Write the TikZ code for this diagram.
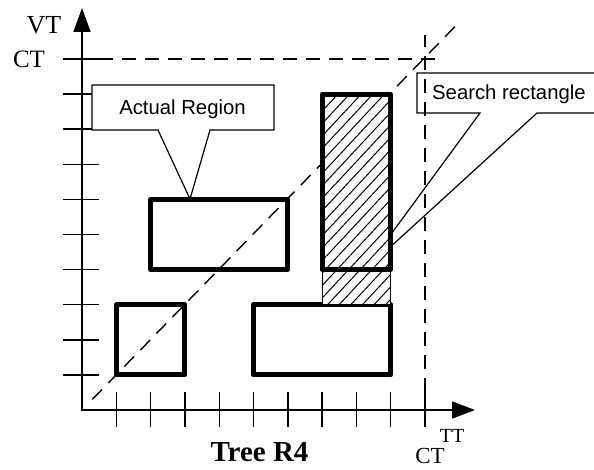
\documentclass[tikz,border=0pt]{standalone}
\usepackage{fontspec}
\setmainfont{Liberation Serif}
\newfontfamily\calloutfont{Liberation Sans}
\usetikzlibrary{arrows.meta,patterns.meta}
\tikzset{
  thinline/.style={line width=1.2pt},
  axisline/.style={line width=1.5pt},
  tickline/.style={line width=1.4pt},
  dashline/.style={line width=1.4pt,dash pattern=on 14pt off 9pt},
  region/.style={line width=5pt,line join=round},
  hatch/.style={pattern={Lines[angle=47,distance=8.5pt,line width=1pt]}},
  callout/.style={thinline,line join=miter},
  callouttext/.style={font=\calloutfont\fontsize{20.3pt}{22pt}\selectfont,inner sep=0pt,anchor=base},
  axislabel/.style={font=\fontsize{25pt}{27pt}\selectfont,inner sep=0pt,anchor=base},
}
\begin{document}
\begin{tikzpicture}[x=34.3pt,y=35.1pt]
\useasboundingbox (-2.3907,-1.6809) rectangle (14.9271,11.6809);
% axes
\coordinate (O) at (0,0);
\coordinate (ytop) at (0,11.453);
\coordinate (xend) at (11.458,0);
\draw[axisline,-{Triangle[length=24pt,width=17pt]}] (O) -- (ytop);
\draw[axisline,-{Triangle[length=23pt,width=17pt]}] (-0.03,0) -- (xend);
% ticks
\foreach \k in {1,...,10}{
  \draw[tickline] (-0.554,\k) -- (0.496,\k);
  \draw[tickline] (\k,-0.48) -- (\k,0.51);
}
% search rectangle callout (outline only)
\coordinate (sTL) at (9.767,9.601);
\coordinate (sTR) at (15.3,9.601);
\coordinate (sBL) at (9.767,8.462);
\coordinate (sBR) at (15.3,8.462);
\coordinate (sB1) at (11.603,8.462);
\coordinate (sB2) at (13.265,8.462);
\coordinate (sTip) at (8.222,3.96);
\draw[callout] (sTR) -- (sTL) -- (sBL) -- (sB1) -- (sTip) -- (sB2) -- (sBR);
% dashed lines
\draw[dashline] (0.5,10) -- (10.45,10);
\draw[dashline] (10,0.5) -- (10,10.68);
\draw[dashline] (0.3,0.3) -- (10.95,11.0);
% actual region callout
\coordinate (aTL) at (0.2915,9.259);
\coordinate (aTR) at (5.598,9.259);
\coordinate (aBR) at (5.598,7.977);
\coordinate (aB2) at (3.732,7.977);
\coordinate (aTip) at (3.149,6.011);
\coordinate (aB1) at (2.216,7.977);
\coordinate (aBL) at (0.2915,7.977);
\draw[callout,fill=white] (aTL) -- (aTR) -- (aBR) -- (aB2) -- (aTip) -- (aB1) -- (aBL) -- cycle;
% regions
\draw[region] (1,1) rectangle (3,3);
\draw[region] (2,4) rectangle (6,6);
\draw[region] (5,1) rectangle (9,3);
\fill[white] (7,3) rectangle (9,9);
\path[hatch] (7,3) rectangle (9,9);
\draw[thinline] (7,3) rectangle (9,4);
\draw[region] (7,4) rectangle (9,9);
% texts
\node[callouttext] (atext) at (2.93,8.433) {Actual Region};
\node[callouttext,anchor=base west] (stext) at (10.204,8.832) {Search rectangle};
\node[axislabel,font=\fontsize{26pt}{28pt}\selectfont] (vt) at (-1.108,10.74) {VT};
\node[axislabel] (ctleft) at (-1.545,9.744) {CT};
\node[axislabel,font=\fontsize{23pt}{25pt}\selectfont] (ctbottom) at (10.146,-1.51) {CT};
\node[axislabel,font=\fontsize{20pt}{22pt}\selectfont] (tt) at (10.787,-0.912) {TT};
\node[axislabel,font=\bfseries\fontsize{29pt}{31pt}\selectfont] (title) at (5.175,-1.46) {Tree R4};
\end{tikzpicture}
\end{document}
